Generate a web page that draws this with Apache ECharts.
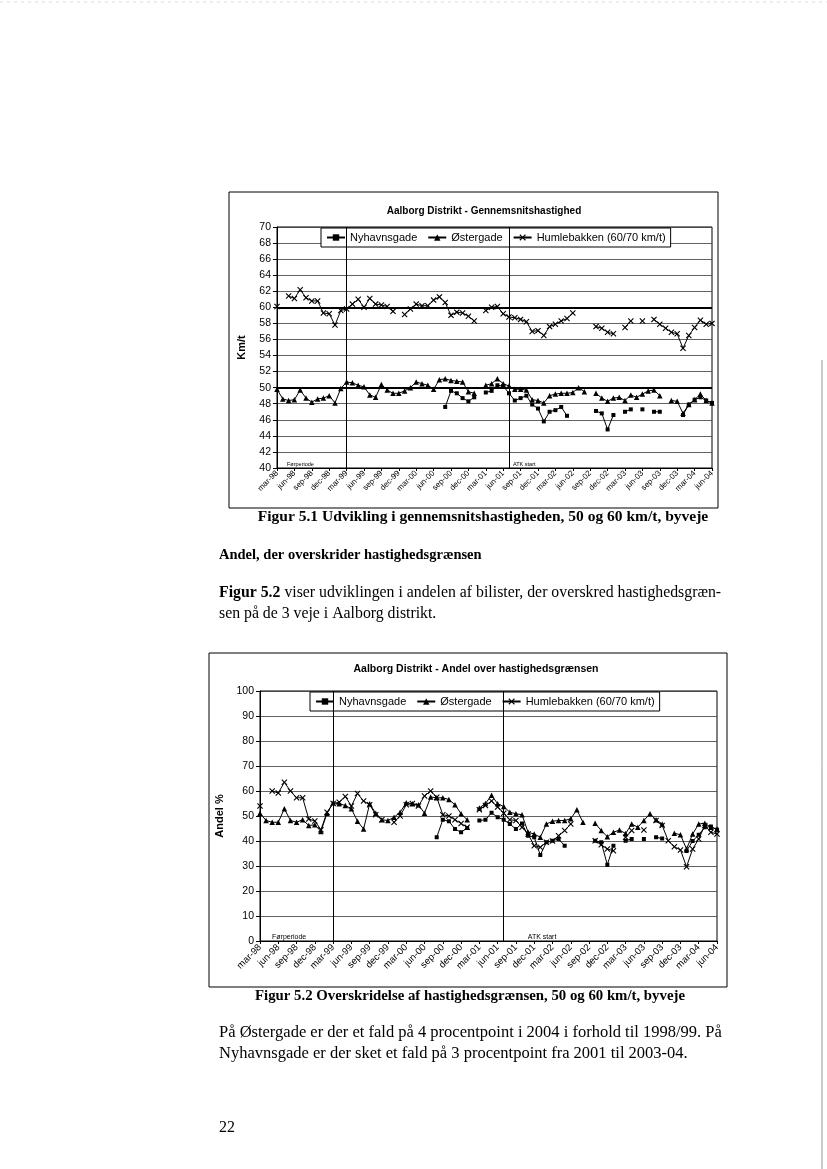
<!DOCTYPE html>
<html><head><meta charset="utf-8">
<script src="https://cdn.jsdelivr.net/npm/echarts@6/dist/echarts.min.js"></script>
<style>html,body{margin:0;padding:0;background:#fff}#c{width:827px;height:1169px}</style>
</head><body><div id="c"></div>
<script>
// ---- categories (monthly, mar-98 .. jun-04) ----
const months = [
 'mar-98','apr-98','maj-98','jun-98','jul-98','aug-98','sep-98','okt-98','nov-98','dec-98',
 'jan-99','feb-99','mar-99','apr-99','maj-99','jun-99','jul-99','aug-99','sep-99','okt-99','nov-99','dec-99',
 'jan-00','feb-00','mar-00','apr-00','maj-00','jun-00','jul-00','aug-00','sep-00','okt-00','nov-00','dec-00',
 'jan-01','feb-01','mar-01','apr-01','maj-01','jun-01','jul-01','aug-01','sep-01','okt-01','nov-01','dec-01',
 'jan-02','feb-02','mar-02','apr-02','maj-02','jun-02','jul-02','aug-02','sep-02','okt-02','nov-02','dec-02',
 'jan-03','feb-03','mar-03','apr-03','maj-03','jun-03','jul-03','aug-03','sep-03','okt-03','nov-03','dec-03',
 'jan-04','feb-04','mar-04','apr-04','maj-04','jun-04'
];
const seriesNames = ['Nyhavnsgade','Østergade','Humlebakken (60/70 km/t)'];
const periodMarks = ['mar-99','jul-01'];
const periodTexts = ['Førperiode','ATK start'];

// ---- Figur 5.1: average speed (km/t) ----
const speedNyhavn = [
 null,null,null,null,null,null,null,null,null,null,
 null,null,null,null,null,null,null,null,null,null,
 null,null,null,null,null,null,null,null,null,47.6,
 49.6,49.3,48.7,48.3,48.8,null,49.4,49.6,50.3,50.2,
 49.3,48.4,48.7,49.0,47.9,47.4,45.8,47.0,47.2,47.6,
 46.5,null,null,null,null,47.1,46.8,44.8,46.6,null,
 47.0,47.3,null,47.3,null,47.0,47.0,null,null,null,
 46.6,47.9,48.5,48.8,48.4,48.1];
const speedOster = [
 49.8,48.6,48.4,48.5,49.7,48.7,48.2,48.6,48.7,49.0,
 48.1,49.9,50.7,50.6,50.3,50.1,49.1,48.8,50.4,49.7,
 49.3,49.3,49.6,50.0,50.7,50.5,50.3,49.8,51.0,51.1,
 50.9,50.8,50.7,49.5,49.3,null,50.3,50.5,51.1,50.5,
 50.2,49.8,49.8,49.7,48.5,48.4,48.1,49.0,49.2,49.3,
 49.3,49.4,50.0,49.5,null,49.3,48.7,48.3,48.7,48.8,
 48.4,49.1,48.8,49.2,49.6,49.7,49.0,null,48.4,48.3,
 46.8,47.9,48.5,49.2,48.4,48.1];
const speedHumle = [
 60.1,null,61.4,61.1,62.2,61.2,60.8,60.8,59.3,59.2,
 57.8,59.6,59.8,60.4,61.0,60.0,61.1,60.4,60.3,60.1,
 59.5,null,59.1,59.8,60.4,60.2,60.2,60.9,61.3,60.6,
 59.0,59.4,59.3,58.9,58.3,null,59.6,60.0,60.1,59.2,
 58.8,58.7,58.5,58.2,57.0,57.1,56.5,57.6,57.9,58.3,
 58.6,59.3,null,null,null,57.6,57.4,56.9,56.7,null,
 57.5,58.3,null,58.3,null,58.5,57.9,57.4,56.9,56.7,
 54.9,56.5,57.5,58.4,57.9,58.0];
const speedTicks = {min:40, max:70, step:2};
const speedLimits = [60, 50];

// ---- Figur 5.2: share over the limit (%) ----
const shareNyhavn = [
 null,null,null,null,null,null,null,null,null,null,
 null,null,null,null,null,null,null,null,null,null,
 null,null,null,null,null,null,null,null,null,41.5,
 48.5,47.9,44.8,43.5,45.2,null,48.2,48.5,51.3,49.5,
 48.5,46.8,44.8,47.0,42.1,41.5,34.4,39.5,40.1,40.8,
 38.1,null,null,null,null,40.1,39.5,30.5,38.1,null,
 40.1,40.8,null,40.8,null,41.5,41.0,null,null,null,
 36.0,40.0,42.5,45.5,45.8,44.5];
const shareOster = [
 51.1,48.2,47.5,47.5,52.9,48.2,47.5,48.5,46.2,46.5,
 43.8,51.1,55.3,54.9,54.2,52.9,47.9,44.8,54.9,51.1,
 48.5,48.2,49.5,51.5,55.3,54.9,54.5,51.1,57.6,57.3,
 57.3,56.6,54.5,50.9,48.5,null,53.2,55.0,58.3,54.9,
 53.8,51.5,50.9,50.5,43.5,42.8,41.5,46.8,47.9,48.2,
 48.2,48.9,52.5,47.5,null,47.1,44.2,41.7,43.5,44.4,
 43.0,46.8,45.5,48.2,50.9,48.5,46.8,null,43.1,42.5,
 36.8,42.8,46.8,47.1,45.5,44.8];
const shareHumle = [
 54.0,null,60.0,59.2,63.5,60.0,57.3,57.3,48.8,48.0,
 44.5,51.5,55.0,55.5,57.8,54.0,59.0,56.0,54.5,50.5,
 48.5,null,47.5,50.0,54.5,55.0,54.0,58.0,60.0,57.5,
 50.5,50.0,48.5,47.0,45.5,null,52.5,54.2,56.0,53.6,
 51.1,48.5,48.2,45.5,42.8,38.1,37.5,39.5,40.0,42.1,
 44.2,46.8,null,null,null,40.1,38.5,36.8,36.1,null,
 41.5,44.2,null,44.4,null,48.2,46.2,40.1,37.7,36.4,
 29.7,36.8,40.8,46.2,43.5,42.8];
const shareTicks = {min:0, max:100, step:10};

// ---- styling ----
const SANS = '"Liberation Sans", Arial, sans-serif';
const SERIF = '"Liberation Serif", "Times New Roman", serif';
const CROSS = 'path://M0,1.3L1.3,0L5,3.7L8.7,0L10,1.3L6.3,5L10,8.7L8.7,10L5,6.3L1.3,10L0,8.7L3.7,5Z';
const symbols = [['rect',4],['triangle',5.5],[CROSS,6]];

const chart = echarts.init(document.getElementById('c'), null, {renderer:'canvas', width:827, height:1169});

function xAxisCfg(gi, fs, margin){
  return {type:'category', gridIndex:gi, data:months, boundaryGap:false,
    axisLine:{show:true, lineStyle:{color:'#000', width:1}},
    axisTick:{show:true, interval:2, length:3, lineStyle:{color:'#000'}},
    axisLabel:{interval:2, rotate:45, fontSize:fs, fontFamily:SANS, color:'#000', margin:margin},
    splitLine:{show:false}};
}
function yAxisCfg(gi, t, name, gap, fs){
  return {type:'value', gridIndex:gi, min:t.min, max:t.max, interval:t.step,
    name:name, nameLocation:'middle', nameGap:gap, nameRotate:90,
    nameTextStyle:{fontWeight:'bold', fontSize:11, fontFamily:SANS, color:'#000'},
    axisLine:{show:true, lineStyle:{color:'#000', width:1}},
    axisTick:{show:true, length:4, lineStyle:{color:'#000'}},
    axisLabel:{fontSize:fs, fontFamily:SANS, color:'#000', margin:6},
    splitLine:{show:true, lineStyle:{color:'#3a3a3a', width:0.8}}};
}
function lineSeries(gi, idx, data, extra){
  const s = {name:seriesNames[idx], type:'line', xAxisIndex:gi, yAxisIndex:gi, data:data,
    symbol:symbols[idx][0], symbolSize:symbols[idx][1], showSymbol:true, showAllSymbol:true, connectNulls:false,
    lineStyle:{color:'#000', width:1}, itemStyle:{color:'#000'}, animation:false, z:3};
  return Object.assign(s, extra||{});
}
function marks(withLimits){
  const d = periodMarks.map(m => ({xAxis:m}));
  if (withLimits) speedLimits.forEach(v => d.push({yAxis:v, lineStyle:{width:2, color:'#000'}}));
  return {markLine:{silent:true, symbol:['none','none'], label:{show:false},
    lineStyle:{color:'#000', width:1, type:'solid'}, data:d, animation:false}};
}
function legendCfg(left, top, fs){
  return {data:seriesNames, left:left, top:top, orient:'horizontal',
    itemWidth:18, itemHeight:8, itemGap:10, padding:[4,5],
    borderColor:'#000', borderWidth:1, backgroundColor:'#fff',
    textStyle:{fontSize:fs, fontFamily:SANS, color:'#000'}, selectedMode:false};
}

const option = {
  backgroundColor:'#fff',
  animation:false,
  grid:[
    {left:277, top:227, width:435, height:241, show:true, borderColor:'#000', borderWidth:1, backgroundColor:'transparent'},
    {left:260, top:691, width:457, height:250, show:true, borderColor:'#000', borderWidth:1, backgroundColor:'transparent'}
  ],
  xAxis:[xAxisCfg(0,8,4), xAxisCfg(1,9.5,5)],
  yAxis:[yAxisCfg(0, speedTicks, 'Km/t', 30, 10.5), yAxisCfg(1, shareTicks, 'Andel %', 28, 10.5)],
  legend:[legendCfg(321, 228, 11), legendCfg(310, 692, 11)],
  series:[
    lineSeries(0,0,speedNyhavn, marks(true)),
    lineSeries(0,1,speedOster),
    lineSeries(0,2,speedHumle),
    lineSeries(1,0,shareNyhavn, marks(false)),
    lineSeries(1,1,shareOster),
    lineSeries(1,2,shareHumle)
  ],
  graphic:[
    {type:'rect', shape:{x:229, y:192, width:489, height:316}, style:{fill:'none', stroke:'#000', lineWidth:1}, z:-1},
    {type:'rect', shape:{x:209, y:653, width:518, height:334}, style:{fill:'none', stroke:'#000', lineWidth:1}, z:-1},
    {type:'line', shape:{x1:822, y1:360, x2:822, y2:1169}, style:{stroke:'#999', lineWidth:1}},
    {type:'line', shape:{x1:0, y1:2, x2:827, y2:2}, style:{stroke:'#ddd', lineWidth:1, lineDash:[3,4]}},
    {type:'text', x:484, y:211, style:{text:'Aalborg Distrikt - Gennemsnitshastighed', font:'bold 10px '+SANS, fill:'#000', textAlign:'center', textVerticalAlign:'middle'}},
    {type:'text', x:476, y:669, style:{text:'Aalborg Distrikt - Andel over hastighedsgrænsen', font:'bold 10.5px '+SANS, fill:'#000', textAlign:'center', textVerticalAlign:'middle'}},
    {type:'text', x:483, y:517, style:{text:'Figur 5.1 Udvikling i gennemsnitshastigheden, 50 og 60 km/t, byveje', font:'bold 15.5px '+SERIF, fill:'#000', textAlign:'center', textVerticalAlign:'middle'}},
    {type:'text', x:219, y:555, style:{text:'Andel, der overskrider hastighedsgrænsen', font:'bold 14.5px '+SERIF, fill:'#000', textAlign:'left', textVerticalAlign:'middle'}},
    {type:'text', x:219, y:593, style:{text:'{b|Figur 5.2} viser udviklingen i andelen af bilister, der overskred hastighedsgræn-', font:'15.8px '+SERIF, fill:'#000', textAlign:'left', textVerticalAlign:'middle', rich:{b:{font:'bold 15.8px '+SERIF, fill:'#000'}}}},
    {type:'text', x:219, y:614, style:{text:'sen på de 3 veje i Aalborg distrikt.', font:'15.8px '+SERIF, fill:'#000', textAlign:'left', textVerticalAlign:'middle'}},
    {type:'text', x:470, y:996, style:{text:'Figur 5.2 Overskridelse af hastighedsgrænsen, 50 og 60 km/t, byveje', font:'bold 14.8px '+SERIF, fill:'#000', textAlign:'center', textVerticalAlign:'middle'}},
    {type:'text', x:219, y:1033, style:{text:'På Østergade er der et fald på 4 procentpoint i 2004 i forhold til 1998/99. På', font:'16.5px '+SERIF, fill:'#000', textAlign:'left', textVerticalAlign:'middle'}},
    {type:'text', x:219, y:1054, style:{text:'Nyhavnsgade er der sket et fald på 3 procentpoint fra 2001 til 2003-04.', font:'16.5px '+SERIF, fill:'#000', textAlign:'left', textVerticalAlign:'middle'}},
    {type:'text', x:219, y:1128, style:{text:'22', font:'16px '+SERIF, fill:'#000', textAlign:'left', textVerticalAlign:'middle'}}
  ]
};
chart.setOption(option);

// period labels positioned through the axes' own scales
const extra = [];
[[0,40,5.5,10,4],[1,0,7,12,24]].forEach(([gi, yBase, fs, off0, off1]) => {
  const p0 = chart.convertToPixel({xAxisIndex:gi, yAxisIndex:gi}, [months[0], yBase]);
  const p1 = chart.convertToPixel({xAxisIndex:gi, yAxisIndex:gi}, [periodMarks[1], yBase]);
  extra.push({type:'text', x:p0[0]+off0, y:p0[1]-4, style:{text:periodTexts[0], font:fs+'px '+SANS, fill:'#000', textVerticalAlign:'middle'}});
  extra.push({type:'text', x:p1[0]+off1, y:p1[1]-4, style:{text:periodTexts[1], font:fs+'px '+SANS, fill:'#000', textVerticalAlign:'middle'}});
});
chart.setOption({graphic: option.graphic.concat(extra)});
</script>
</body></html>
